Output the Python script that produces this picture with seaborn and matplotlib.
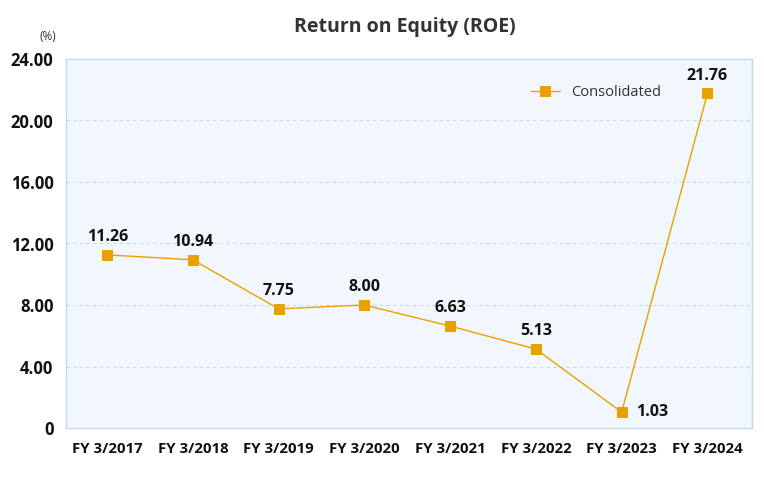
import matplotlib
matplotlib.use("Agg")
import matplotlib.pyplot as plt
import seaborn as sns
import pandas as pd

years = ["FY 3/2017", "FY 3/2018", "FY 3/2019", "FY 3/2020", "FY 3/2021", "FY 3/2022", "FY 3/2023", "FY 3/2024"]
roe = [11.26, 10.94, 7.75, 8.00, 6.63, 5.13, 1.03, 21.76]
yticks = [0, 4, 8, 12, 16, 20, 24]
ytick_labels = ["0", "4.00", "8.00", "12.00", "16.00", "20.00", "24.00"]

sns.set_theme(style="white")
plt.rcParams['font.family'] = ['Open Sans', 'DejaVu Sans']

df = pd.DataFrame({"year": years, "roe": roe, "x": range(len(years))})

fig = plt.figure(figsize=(7.64, 4.90), dpi=100)
ax = fig.add_axes([66/764, 1-428/490, (752-66)/764, (428-59)/490])
ax.set_facecolor("#f1f7fd")
color = "#e9a100"

sns.lineplot(data=df, x="x", y="roe", ax=ax, color=color, linewidth=1.0,
             marker="s", markersize=7, markeredgecolor=color, markerfacecolor=color,
             label="Consolidated")

ax.set_xlim(-0.48, 7.52)
ax.set_ylim(0, 24)
ax.set_yticks(yticks)
ax.set_yticklabels(ytick_labels, fontsize=12, fontweight="bold", color="#111111")
ax.set_xticks(range(len(years)))
ax.set_xticklabels(years, fontsize=10.8, fontweight="bold", color="#111111")
ax.tick_params(axis="both", length=0)
ax.tick_params(axis="x", pad=10)
ax.tick_params(axis="y", pad=9)
ax.set_xlabel("")
ax.set_ylabel("")
for y in yticks[1:-1]:
    ax.axhline(y, color="#c9d8e8", linestyle=(0, (3, 3)), linewidth=0.8, zorder=0)
for s in ax.spines.values():
    s.set_color("#c6daef")
    s.set_linewidth(1.0)

for i, v in enumerate(roe):
    if i == 6:
        ax.annotate(f"{v:.2f}", (i, v), xytext=(10, 0), textcoords="offset points",
                    ha="left", va="center", fontsize=11.5, fontweight="bold", color="#111111")
    else:
        ax.annotate(f"{v:.2f}", (i, v), xytext=(0, 7), textcoords="offset points",
                    ha="center", va="bottom", fontsize=11.5, fontweight="bold", color="#111111")

leg = ax.legend(loc="upper right", bbox_to_anchor=(0.887, 0.965), frameon=False,
                fontsize=10.5, handlelength=2.0)
for t in leg.get_texts():
    t.set_color("#333333")

fig.text(405/764, 1-27/490, "Return on Equity (ROE)", ha="center", va="center",
         fontsize=14, fontweight="bold", color="#333333")
fig.text(48/764, 1-37/490, "(%)", ha="center", va="center", fontsize=8.5, color="#333333")

fig.savefig("out.png", dpi=100)
